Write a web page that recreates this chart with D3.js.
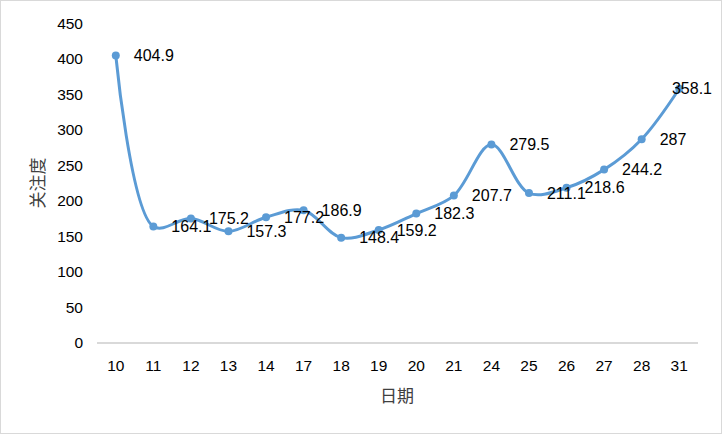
<!DOCTYPE html>
<html>
<head>
<meta charset="utf-8">
<script src="https://cdn.jsdelivr.net/npm/d3@7"></script>
<style>
  body { margin: 0; background: #fff; }
  svg { display: block; }
</style>
</head>
<body>
<div id="chart"></div>
<script>
// Days and attention values
const days = ["10", "11", "12", "13", "14", "17", "18", "19", "20", "21", "24", "25", "26", "27", "28", "31"];
const attention = [404.9, 164.1, 175.2, 157.3, 177.2, 186.9, 148.4, 159.2, 182.3, 207.7, 279.5, 211.1, 218.6, 244.2, 287, 358.1];
const yTicks = [0, 50, 100, 150, 200, 250, 300, 350, 400, 450];

const width = 722;
const height = 434;
const margin = {top: 23.5, left: 97, right: 24, bottom: 91};
const fontFamily = "'Liberation Sans', Arial, sans-serif";
const lineColor = "#5b9bd5";

const data = days.map(function(d, i) {
    return {day: d, value: attention[i]};
});

const svg = d3.select("#chart")
    .append("svg")
    .attr("width", width)
    .attr("height", height);

// chart border
svg.append("rect")
    .attr("x", 0.5)
    .attr("y", 0.5)
    .attr("width", width - 1)
    .attr("height", height - 1)
    .attr("fill", "#fff")
    .attr("stroke", "#d9d9d9");

const xScale = d3.scalePoint()
    .domain(days)
    .range([margin.left, width - margin.right])
    .padding(0.5);

const yScale = d3.scaleLinear()
    .domain([0, 450])
    .range([height - margin.bottom, margin.top]);

// x axis line
svg.append("line")
    .attr("x1", margin.left)
    .attr("x2", width - margin.right)
    .attr("y1", yScale(0))
    .attr("y2", yScale(0))
    .attr("stroke", "#d9d9d9")
    .attr("stroke-width", 2);

// y tick labels
svg.selectAll(".ytick")
    .data(yTicks)
    .enter()
    .append("text")
        .attr("class", "ytick")
        .attr("x", margin.left - 14)
        .attr("y", function(d) { return yScale(d); })
        .attr("dy", "0.35em")
        .style("text-anchor", "end")
        .style("font-family", fontFamily)
        .style("font-size", "15.5px")
        .style("fill", "#000")
        .text(function(d) { return d; });

// x tick labels
svg.selectAll(".xtick")
    .data(days)
    .enter()
    .append("text")
        .attr("class", "xtick")
        .attr("x", function(d) { return xScale(d); })
        .attr("y", yScale(0) + 23)
        .attr("dy", "0.35em")
        .style("text-anchor", "middle")
        .style("font-family", fontFamily)
        .style("font-size", "15.5px")
        .style("fill", "#000")
        .text(function(d) { return d; });

// axis titles
svg.append("text")
    .attr("transform", "translate(38," + 183 + ") rotate(-90)")
    .attr("dy", "0.35em")
    .style("text-anchor", "middle")
    .style("font-family", "'Noto Sans CJK SC', sans-serif")
    .style("font-size", "17px")
    .style("fill", "#404040")
    .text("关注度");

svg.append("text")
    .attr("x", 397)
    .attr("y", 396)
    .attr("dy", "0.35em")
    .style("text-anchor", "middle")
    .style("font-family", "'Noto Sans CJK SC', sans-serif")
    .style("font-size", "17px")
    .style("fill", "#404040")
    .text("日期");

// smooth line
const line = d3.line()
    .x(function(d) { return xScale(d.day); })
    .y(function(d) { return yScale(d.value); })
    .curve(d3.curveCatmullRom.alpha(0.5));

svg.append("path")
    .datum(data)
    .attr("d", line)
    .attr("fill", "none")
    .attr("stroke", lineColor)
    .attr("stroke-width", 3)
    .attr("stroke-linecap", "round");

svg.selectAll(".dot")
    .data(data)
    .enter()
    .append("circle")
        .attr("class", "dot")
        .attr("cx", function(d) { return xScale(d.day); })
        .attr("cy", function(d) { return yScale(d.value); })
        .attr("r", 4)
        .attr("fill", lineColor);

// data labels to the right, pulled back in if they run past the plot
const labels = svg.selectAll(".label")
    .data(data)
    .enter()
    .append("text")
        .attr("class", "label")
        .attr("y", function(d) { return yScale(d.value); })
        .attr("dy", "0.35em")
        .style("font-family", fontFamily)
        .style("font-size", "16px")
        .style("fill", "#000")
        .text(function(d) { return d.value; });

labels.attr("x", function(d) {
    const w = this.getComputedTextLength();
    return Math.min(xScale(d.day) + 18, width - 10 - w);
});
</script>
</body>
</html>
